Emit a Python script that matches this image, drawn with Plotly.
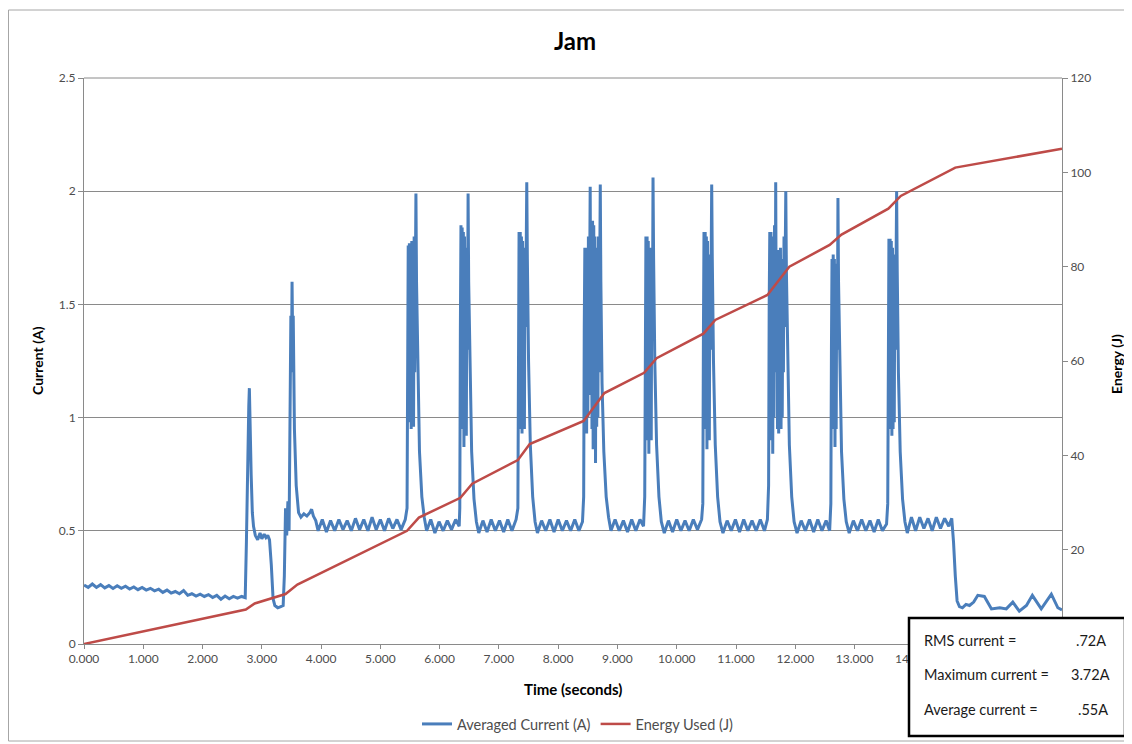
import plotly.graph_objects as go

# ---------------- data ----------------
# Averaged current samples, (time s, current A), grouped by segment
idle_start = [
    (0.00, 0.260), (0.07, 0.250), (0.14, 0.265), (0.21, 0.250), (0.28, 0.262), (0.35, 0.248),
    (0.42, 0.258), (0.49, 0.245), (0.56, 0.257), (0.63, 0.246), (0.70, 0.255), (0.77, 0.243),
    (0.84, 0.252), (0.91, 0.240), (0.98, 0.250), (1.05, 0.238), (1.12, 0.246), (1.19, 0.235),
    (1.26, 0.242), (1.33, 0.228), (1.40, 0.238), (1.47, 0.225), (1.54, 0.232), (1.61, 0.222),
    (1.68, 0.236), (1.75, 0.215), (1.82, 0.222), (1.89, 0.212), (1.96, 0.220), (2.03, 0.210),
    (2.10, 0.218), (2.17, 0.205), (2.24, 0.215), (2.31, 0.198), (2.38, 0.212), (2.45, 0.200),
    (2.52, 0.210), (2.59, 0.203), (2.66, 0.210), (2.72, 0.205),
]
startup = [
    (2.74, 0.45), (2.76, 0.85), (2.78, 1.05), (2.79, 1.13), (2.80, 0.98), (2.82, 0.75),
    (2.84, 0.58), (2.86, 0.52), (2.89, 0.48), (2.93, 0.46), (2.97, 0.49), (3.00, 0.465),
    (3.04, 0.485), (3.07, 0.47), (3.10, 0.48), (3.13, 0.46), (3.16, 0.35), (3.19, 0.20),
    (3.22, 0.17), (3.27, 0.16), (3.32, 0.165), (3.36, 0.17), (3.38, 0.30), (3.40, 0.60),
    (3.42, 0.48), (3.44, 0.63), (3.46, 0.50), (3.48, 1.00), (3.49, 1.45), (3.50, 1.20),
    (3.51, 1.60), (3.52, 1.35), (3.53, 1.45), (3.55, 0.95), (3.58, 0.70), (3.62, 0.58),
    (3.66, 0.56), (3.71, 0.575), (3.76, 0.565), (3.81, 0.58), (3.84, 0.595), (3.87, 0.565),
    (3.91, 0.545),
]
run_1 = [
    (3.95, 0.50), (4.02, 0.55), (4.09, 0.495), (4.16, 0.545), (4.23, 0.50), (4.30, 0.55),
    (4.37, 0.505), (4.44, 0.545), (4.51, 0.50), (4.58, 0.555), (4.65, 0.505), (4.72, 0.55),
    (4.79, 0.50), (4.86, 0.56), (4.93, 0.505), (5.00, 0.55), (5.07, 0.50), (5.14, 0.555),
    (5.21, 0.51), (5.28, 0.55), (5.35, 0.505), (5.42, 0.55),
]
jam_3 = [
    (5.45, 0.60), (5.46, 1.30), (5.47, 1.76), (5.48, 1.10), (5.49, 1.77), (5.50, 0.98),
    (5.51, 1.75), (5.52, 0.95), (5.53, 1.78), (5.54, 1.00), (5.55, 1.70), (5.56, 0.96),
    (5.57, 1.80), (5.58, 1.20), (5.59, 1.85), (5.60, 1.99), (5.61, 1.60), (5.63, 1.20),
    (5.66, 0.85), (5.70, 0.65), (5.74, 0.56), (5.78, 0.50),
]
run_2 = [
    (5.85, 0.55), (5.92, 0.49), (5.99, 0.54), (6.06, 0.50), (6.13, 0.545), (6.20, 0.505),
    (6.27, 0.55), (6.33, 0.52),
]
jam_4 = [
    (6.34, 0.60), (6.35, 1.40), (6.36, 1.85), (6.37, 1.05), (6.38, 1.84), (6.39, 0.95),
    (6.40, 1.82), (6.41, 0.87), (6.42, 1.80), (6.43, 1.00), (6.44, 1.75), (6.45, 0.92),
    (6.46, 1.70), (6.47, 1.30), (6.48, 1.99), (6.49, 1.60), (6.51, 1.20), (6.54, 0.85),
    (6.58, 0.64), (6.62, 0.54), (6.66, 0.49),
]
run_3 = [
    (6.73, 0.545), (6.80, 0.495), (6.87, 0.55), (6.94, 0.50), (7.01, 0.545), (7.08, 0.495),
    (7.15, 0.55), (7.22, 0.50), (7.29, 0.55),
]
jam_5 = [
    (7.32, 0.60), (7.33, 1.30), (7.34, 1.82), (7.35, 1.00), (7.36, 1.82), (7.37, 0.95),
    (7.38, 1.80), (7.39, 0.93), (7.40, 1.78), (7.41, 1.00), (7.42, 1.75), (7.43, 0.95),
    (7.44, 1.70), (7.45, 1.40), (7.46, 1.90), (7.47, 2.04), (7.48, 1.70), (7.50, 1.25),
    (7.53, 0.88), (7.57, 0.65), (7.61, 0.54), (7.65, 0.49),
]
run_4 = [
    (7.72, 0.545), (7.79, 0.50), (7.86, 0.55), (7.93, 0.495), (8.00, 0.55), (8.07, 0.50),
    (8.14, 0.545), (8.21, 0.50), (8.28, 0.55), (8.35, 0.50), (8.41, 0.54),
]
jam_6 = [
    (8.43, 0.65), (8.44, 1.40), (8.45, 1.75), (8.46, 0.95), (8.47, 1.75), (8.48, 0.93),
    (8.49, 1.72), (8.50, 1.00), (8.51, 1.80), (8.52, 1.10), (8.53, 1.95), (8.54, 2.02),
    (8.55, 1.30), (8.56, 1.87), (8.57, 0.95), (8.58, 1.87), (8.59, 0.86), (8.60, 1.85),
    (8.61, 0.90), (8.62, 1.80), (8.63, 0.80), (8.64, 1.70), (8.65, 0.96), (8.66, 1.75),
    (8.67, 1.00), (8.68, 1.80), (8.69, 1.20), (8.70, 1.90), (8.71, 2.03), (8.72, 1.60),
    (8.74, 1.15), (8.77, 0.85), (8.81, 0.65), (8.85, 0.56), (8.89, 0.50),
]
run_5 = [
    (8.96, 0.55), (9.03, 0.50), (9.10, 0.545), (9.17, 0.495), (9.24, 0.55), (9.31, 0.50),
    (9.38, 0.55), (9.44, 0.52),
]
jam_7 = [
    (9.46, 0.65), (9.47, 1.40), (9.48, 1.80), (9.49, 1.00), (9.50, 1.80), (9.51, 0.90),
    (9.52, 1.78), (9.53, 0.84), (9.54, 1.75), (9.55, 0.95), (9.56, 1.70), (9.57, 0.90),
    (9.58, 1.75), (9.59, 1.40), (9.60, 2.06), (9.61, 1.70), (9.63, 1.25), (9.66, 0.88),
    (9.70, 0.65), (9.74, 0.54), (9.79, 0.49),
]
run_6 = [
    (9.86, 0.545), (9.93, 0.495), (10.00, 0.55), (10.07, 0.50), (10.14, 0.545), (10.21, 0.50),
    (10.28, 0.55), (10.35, 0.505), (10.42, 0.55),
]
jam_8 = [
    (10.44, 0.62), (10.45, 1.35), (10.46, 1.82), (10.47, 1.00), (10.48, 1.82), (10.49, 0.95),
    (10.50, 1.80), (10.51, 0.86), (10.52, 1.78), (10.53, 0.95), (10.54, 1.72), (10.55, 0.90),
    (10.56, 1.70), (10.57, 1.30), (10.58, 1.85), (10.59, 2.03), (10.60, 1.70), (10.62, 1.25),
    (10.65, 0.88), (10.69, 0.65), (10.73, 0.54), (10.78, 0.49),
]
run_7 = [
    (10.85, 0.545), (10.92, 0.50), (10.99, 0.55), (11.06, 0.495), (11.13, 0.55), (11.20, 0.50),
    (11.27, 0.545), (11.34, 0.50), (11.41, 0.55), (11.48, 0.50), (11.53, 0.55),
]
jam_9 = [
    (11.55, 0.70), (11.56, 1.50), (11.57, 1.82), (11.58, 0.95), (11.59, 1.82), (11.60, 0.90),
    (11.61, 1.80), (11.62, 0.84), (11.63, 1.78), (11.64, 1.00), (11.65, 1.85), (11.66, 1.20),
    (11.67, 2.04), (11.68, 1.30), (11.69, 1.74), (11.70, 0.95), (11.71, 1.74), (11.72, 0.93),
    (11.73, 1.72), (11.74, 0.97), (11.75, 1.75), (11.76, 0.95), (11.77, 1.70), (11.78, 1.00),
    (11.79, 1.60), (11.80, 1.20), (11.81, 1.80), (11.82, 1.40), (11.83, 1.95), (11.84, 2.00),
    (11.85, 1.65), (11.87, 1.25), (11.90, 0.88), (11.94, 0.65), (11.98, 0.54), (12.03, 0.49),
]
run_8 = [
    (12.10, 0.545), (12.17, 0.50), (12.24, 0.55), (12.31, 0.495), (12.38, 0.55), (12.45, 0.50),
    (12.52, 0.545), (12.58, 0.50),
]
jam_10 = [
    (12.60, 0.62), (12.61, 1.30), (12.62, 1.70), (12.63, 1.00), (12.64, 1.72), (12.65, 0.95),
    (12.66, 1.70), (12.67, 0.87), (12.68, 1.68), (12.69, 0.95), (12.70, 1.65), (12.71, 1.30),
    (12.72, 1.97), (12.73, 1.60), (12.75, 1.20), (12.78, 0.85), (12.82, 0.64), (12.86, 0.54),
    (12.91, 0.49),
]
run_9 = [
    (12.98, 0.545), (13.05, 0.50), (13.12, 0.55), (13.19, 0.50), (13.26, 0.545), (13.33, 0.495),
    (13.40, 0.55), (13.47, 0.50), (13.54, 0.53),
]
jam_11 = [
    (13.56, 0.62), (13.57, 1.35), (13.58, 1.79), (13.59, 1.00), (13.60, 1.79), (13.61, 0.95),
    (13.62, 1.78), (13.63, 0.92), (13.64, 1.75), (13.65, 0.95), (13.66, 1.72), (13.67, 0.98),
    (13.68, 1.70), (13.69, 1.30), (13.70, 1.85), (13.71, 2.00), (13.72, 1.65), (13.74, 1.20),
    (13.77, 0.85), (13.81, 0.64), (13.85, 0.54), (13.89, 0.49),
]
run_10 = [
    (13.96, 0.56), (14.03, 0.50), (14.10, 0.56), (14.17, 0.51), (14.24, 0.555), (14.31, 0.50),
    (14.38, 0.56), (14.45, 0.51), (14.52, 0.555), (14.59, 0.52), (14.64, 0.555),
]
idle_end = [
    (14.67, 0.45), (14.70, 0.30), (14.73, 0.19), (14.77, 0.165), (14.82, 0.16), (14.88, 0.175),
    (14.94, 0.17), (15.01, 0.185), (15.08, 0.215), (15.19, 0.21), (15.31, 0.155), (15.45, 0.16),
    (15.56, 0.155), (15.67, 0.185), (15.78, 0.145), (15.90, 0.17), (16.00, 0.215), (16.15, 0.155),
    (16.32, 0.22), (16.43, 0.16), (16.50, 0.15),
]

energy_time_s = [0.00, 2.73, 2.88, 3.15, 3.40, 3.60, 5.45, 5.65, 6.35, 6.55, 7.32, 7.52,
                 8.43, 8.78, 9.45, 9.66, 10.45, 10.65, 11.53, 11.90, 12.58, 12.78,
                 13.57, 13.78, 14.70, 16.50]
energy_j = [0.0, 7.3, 8.6, 9.6, 10.6, 12.6, 24.0, 26.8, 31.0, 34.0, 39.0, 42.4,
            47.3, 53.2, 57.5, 60.6, 65.8, 68.7, 74.0, 80.0, 84.6, 86.8,
            92.3, 95.0, 101.0, 105.0]

# tick labels that remain visible (later ones sit under the statistics box)
x_ticks = list(range(0, 15))
x_tick_text = [f"{v:.3f}" for v in x_ticks]
left_ticks = [0, 0.5, 1, 1.5, 2, 2.5]
left_tick_text = ["0", "0.5", "1", "1.5", "2", "2.5"]
right_ticks = [20, 40, 60, 80, 100, 120]

stat_labels = ["RMS current =", "Maximum current =", "Average current ="]
stat_values = [".72A", "3.72A", ".55A"]

segments = [idle_start, startup, run_1, jam_3, run_2, jam_4, run_3, jam_5, run_4, jam_6,
            run_5, jam_7, run_6, jam_8, run_7, jam_9, run_8, jam_10, run_9, jam_11, run_10,
            idle_end]
time_s = [p[0] for seg in segments for p in seg]
current_a = [p[1] for seg in segments for p in seg]

# ---------------- figure ----------------
FONT = "Lato, 'Open Sans', sans-serif"
TXT = "#4d4d4d"
GRID = "#8a8a8a"
OFF = 8                      # page body margin in the browser
W, H = 1132 - OFF, 744 - OFF
L, R, T, B = 84 - OFF, 70, 78 - OFF, 100
PW, PH = W - L - R, H - T - B


def px_x(px):
    return (px - OFF - L) / PW


def px_y(py):
    return (H - B - (py - OFF)) / PH


fig = go.Figure()
fig.add_trace(go.Scatter(
    x=time_s, y=current_a, mode="lines", name="Averaged Current (A)",
    line=dict(color="#4a7ebb", width=3), yaxis="y"))
fig.add_trace(go.Scatter(
    x=energy_time_s, y=energy_j, mode="lines", name="Energy Used (J)",
    line=dict(color="#be4b48", width=2.5), yaxis="y2"))

fig.update_layout(
    width=W, height=H, autosize=False,
    margin=dict(l=L, r=R, t=T, b=B, autoexpand=False),
    paper_bgcolor="white", plot_bgcolor="white",
    font=dict(family=FONT, size=12, color=TXT),
    title=dict(text="<b>Jam</b>", x=(575 - OFF) / W, xref="container", xanchor="center",
               y=1 - (42 - OFF) / H, yref="container", yanchor="middle",
               font=dict(size=24, color="#000000", family=FONT)),
    xaxis=dict(range=[0, 16.5], tickvals=x_ticks, ticktext=x_tick_text, automargin=False,
               showgrid=False, zeroline=False, showline=True, linecolor=GRID, linewidth=1,
               ticks="outside", ticklen=4, tickcolor=GRID,
               tickfont=dict(size=12, color=TXT)),
    yaxis=dict(range=[0, 2.5], tickvals=left_ticks, ticktext=left_tick_text, automargin=False,
               showgrid=True, gridcolor=GRID, gridwidth=1, zeroline=False,
               showline=True, linecolor=GRID, linewidth=1,
               ticks="outside", ticklen=5, tickcolor=GRID,
               tickfont=dict(size=12, color=TXT)),
    yaxis2=dict(range=[0, 120], tickvals=right_ticks, overlaying="y", side="right",
                automargin=False,
                showgrid=False, zeroline=False, showline=True, linecolor=GRID, linewidth=1,
                ticks="outside", ticklen=5, tickcolor=GRID,
                tickfont=dict(size=12, color=TXT)),
    legend=dict(orientation="h", x=px_x(578), xanchor="center", y=px_y(724), yanchor="middle",
                font=dict(size=14.5, color=TXT), bgcolor="rgba(0,0,0,0)", itemwidth=30),
    showlegend=True,
)

# top border of plot area (gridline at 2.5)
fig.add_shape(type="line", xref="paper", yref="paper", x0=0, x1=1, y0=1, y1=1,
              line=dict(color=GRID, width=1))

# outer chart frame
fig.add_shape(type="rect", xref="paper", yref="paper",
              x0=px_x(8.5), x1=px_x(1129), y0=px_y(741), y1=px_y(10),
              line=dict(color="#a6a6a6", width=1), layer="below")

# axis titles
fig.add_annotation(text="<b>Current (A)</b>", xref="paper", yref="paper",
                   x=px_x(37), y=px_y(361), textangle=-90, showarrow=False,
                   xanchor="center", yanchor="middle",
                   font=dict(size=14, color="#000000"))
fig.add_annotation(text="<b>Energy (J)</b>", xref="paper", yref="paper",
                   x=px_x(1116), y=px_y(364), textangle=-90, showarrow=False,
                   xanchor="center", yanchor="middle",
                   font=dict(size=14, color="#000000"))
fig.add_annotation(text="<b>Time (seconds)</b>", xref="paper", yref="paper",
                   x=px_x(573), y=px_y(689), showarrow=False,
                   xanchor="center", yanchor="middle",
                   font=dict(size=15, color="#000000"))

# statistics box
fig.add_shape(type="rect", xref="paper", yref="paper",
              x0=px_x(909), x1=px_x(1125), y0=px_y(736), y1=px_y(618),
              line=dict(color="#000000", width=2.5), fillcolor="white", layer="above")
rows_y = [640, 674, 709]
val_x = [1074, 1069, 1076]
for lab, val, yy, vx in zip(stat_labels, stat_values, rows_y, val_x):
    fig.add_annotation(text=lab, xref="paper", yref="paper", x=px_x(922), y=px_y(yy),
                       xanchor="left", yanchor="middle", showarrow=False,
                       font=dict(size=14.5, color="#1a1a1a"))
    fig.add_annotation(text=val, xref="paper", yref="paper", x=px_x(vx), y=px_y(yy),
                       xanchor="left", yanchor="middle", showarrow=False,
                       font=dict(size=14.5, color="#1a1a1a"))

fig.write_html("out.html")
